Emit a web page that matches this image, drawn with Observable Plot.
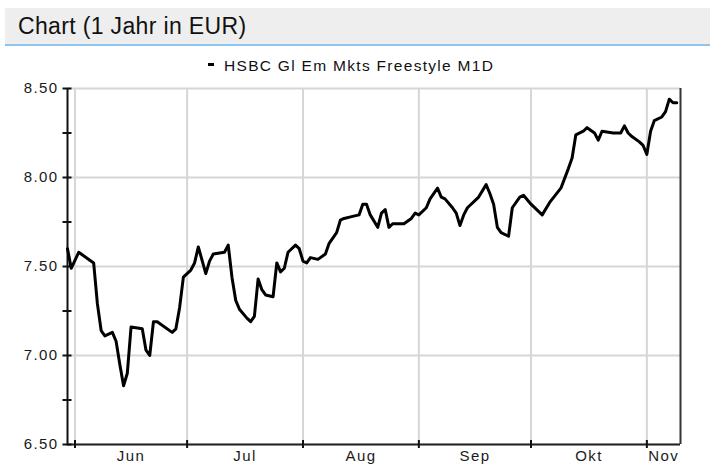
<!DOCTYPE html>
<html>
<head>
<meta charset="utf-8">
<script src="https://cdn.jsdelivr.net/npm/d3@7"></script>
<script src="https://cdn.jsdelivr.net/npm/@observablehq/plot@0.6"></script>
<style>
  html, body { margin: 0; padding: 0; background: #fff; }
  #wrap { position: relative; width: 710px; height: 465px; overflow: hidden; font-family: "Liberation Sans", Arial, sans-serif; }
  #titlebar { position: absolute; left: 5px; top: 8px; width: 705px; height: 36px; background: #eeeeee; border-bottom: 2px solid #8ec4ee; box-sizing: content-box; }
  #title { position: absolute; left: 13px; top: 0; line-height: 36px; font-size: 23px; color: #111; letter-spacing: 0.35px; white-space: nowrap; }
  #legend { position: absolute; left: 208px; top: 57px; line-height: 18px; font-size: 15.5px; letter-spacing: 1.3px; color: #111; white-space: nowrap; }
  #legend .sw { display: inline-block; width: 6px; height: 3px; background: #000; vertical-align: 5px; margin-right: 10px; }
  #chart { position: absolute; left: 0; top: 0; }
</style>
</head>
<body>
<div id="wrap">
  <div id="chart"></div>
  <div id="titlebar"><div id="title">Chart (1 Jahr in EUR)</div></div>
  <div id="legend"><span class="sw"></span>HSBC Gl Em Mkts Freestyle M1D</div>
</div>
<script>
// Series: dates and fund prices (EUR)
const dates = [
  "2012-05-30","2012-05-31","2012-06-02","2012-06-06","2012-06-07","2012-06-08","2012-06-09","2012-06-11",
  "2012-06-12","2012-06-13","2012-06-14","2012-06-15","2012-06-16","2012-06-19","2012-06-20","2012-06-21",
  "2012-06-22","2012-06-23","2012-06-27","2012-06-28","2012-06-29","2012-06-30","2012-07-02","2012-07-03",
  "2012-07-04","2012-07-06","2012-07-07","2012-07-08","2012-07-11","2012-07-12","2012-07-13","2012-07-14",
  "2012-07-15","2012-07-17","2012-07-18","2012-07-19","2012-07-20","2012-07-21","2012-07-22","2012-07-24",
  "2012-07-25","2012-07-26","2012-07-27","2012-07-28","2012-07-30","2012-07-31","2012-08-01","2012-08-02",
  "2012-08-03","2012-08-05","2012-08-07","2012-08-08","2012-08-10","2012-08-11","2012-08-12","2012-08-14",
  "2012-08-16","2012-08-17","2012-08-18","2012-08-19","2012-08-21","2012-08-22","2012-08-23","2012-08-24",
  "2012-08-25","2012-08-28","2012-08-30","2012-08-31","2012-09-01","2012-09-03","2012-09-04","2012-09-06",
  "2012-09-07","2012-09-08","2012-09-10","2012-09-11","2012-09-12","2012-09-13","2012-09-14","2012-09-17",
  "2012-09-19","2012-09-20","2012-09-21","2012-09-22","2012-09-23","2012-09-25","2012-09-26","2012-09-28",
  "2012-09-29","2012-10-01","2012-10-04","2012-10-06","2012-10-09","2012-10-11","2012-10-12","2012-10-13",
  "2012-10-15","2012-10-16","2012-10-18","2012-10-19","2012-10-20","2012-10-23","2012-10-25","2012-10-26",
  "2012-10-27","2012-10-28","2012-10-30","2012-10-31","2012-11-01","2012-11-02","2012-11-03","2012-11-05",
  "2012-11-06","2012-11-07","2012-11-08","2012-11-09"
];
const prices = [
  7.60,7.49,7.58,7.52,7.29,7.14,7.11,7.13,
  7.08,6.95,6.83,6.90,7.16,7.15,7.03,7.00,
  7.19,7.19,7.13,7.15,7.27,7.44,7.48,7.52,
  7.61,7.46,7.53,7.57,7.58,7.62,7.44,7.31,
  7.26,7.21,7.19,7.22,7.43,7.37,7.34,7.33,
  7.52,7.47,7.49,7.58,7.62,7.60,7.53,7.52,
  7.55,7.54,7.57,7.63,7.69,7.76,7.77,7.78,
  7.79,7.85,7.85,7.79,7.72,7.80,7.82,7.72,
  7.74,7.74,7.77,7.80,7.79,7.83,7.88,7.94,
  7.89,7.88,7.83,7.80,7.73,7.79,7.83,7.89,
  7.96,7.91,7.85,7.72,7.69,7.67,7.83,7.89,
  7.90,7.85,7.79,7.86,7.94,8.05,8.11,8.24,
  8.26,8.28,8.25,8.21,8.26,8.25,8.25,8.29,
  8.25,8.23,8.20,8.18,8.13,8.26,8.32,8.34,
  8.37,8.44,8.42,8.42
];
// Axis definitions
const xDomain = ["2012-05-30", "2012-11-10"];
const yDomain = [6.5, 8.5];
const yLabelTicks = [6.5, 7.0, 7.5, 8.0, 8.5];
const yMinorTicks = [6.5, 6.75, 7.0, 7.25, 7.5, 7.75, 8.0, 8.25, 8.5];
const monthStarts = ["2012-06-01","2012-07-01","2012-08-01","2012-09-01","2012-10-01","2012-11-01"];
const monthLabelDates = ["2012-06-16T00:00Z","2012-07-16T12:00Z","2012-08-16T12:00Z","2012-09-16T00:00Z","2012-10-16T12:00Z","2012-11-05T12:00Z"];
const monthLabels = ["Jun","Jul","Aug","Sep","Okt","Nov"];

const data = dates.map((d, i) => ({date: new Date(d), price: prices[i]}));
const xStart = new Date(xDomain[0]);
const xEnd = new Date(xDomain[1]);
const labelTicks = monthLabelDates.map(d => new Date(d));
const monthTicks = monthStarts.map(d => new Date(d));

const chart = Plot.plot({
  width: 710,
  height: 465,
  marginLeft: 67,
  marginRight: 30,
  marginTop: 88,
  marginBottom: 21,
  style: {fontFamily: "'Liberation Sans', Arial, sans-serif", fontSize: "15px", color: "#1a1a1a", background: "transparent", letterSpacing: "1.4px"},
  x: {type: "utc", domain: [xStart, xEnd]},
  y: {domain: yDomain},
  marks: [
    Plot.gridX(monthTicks, {stroke: "#d6d6d6", strokeOpacity: 1, strokeWidth: 2}),
    Plot.gridY(yLabelTicks, {stroke: "#d6d6d6", strokeOpacity: 1, strokeWidth: 2}),
    Plot.axisY(yLabelTicks, {tickSize: 0, tickPadding: 9, tickFormat: d3.format(".2f"), label: null}),
    Plot.axisX(labelTicks, {tickSize: 0, tickPadding: 6, tickFormat: d => monthLabels[labelTicks.findIndex(t => +t === +d)], label: null}),
    Plot.ruleX([xEnd], {stroke: "#333", strokeWidth: 2}),
    Plot.ruleX([xStart], {stroke: "#111", strokeWidth: 2}),
    Plot.ruleY([yDomain[0]], {stroke: "#222", strokeWidth: 2}),
    Plot.ruleY(yMinorTicks, {x1: () => xStart, x2: () => xStart, insetLeft: -4.5, insetRight: -4.5, stroke: "#111", strokeWidth: 2}),
    Plot.ruleX(monthTicks, {y1: () => yDomain[0], y2: () => yDomain[0], insetTop: -4, insetBottom: -4, stroke: "#111", strokeWidth: 2}),
    Plot.line(data, {x: "date", y: "price", stroke: "#000", strokeWidth: 3, strokeLinejoin: "round"})
  ]
});
document.getElementById("chart").appendChild(chart);
</script>
</body>
</html>
